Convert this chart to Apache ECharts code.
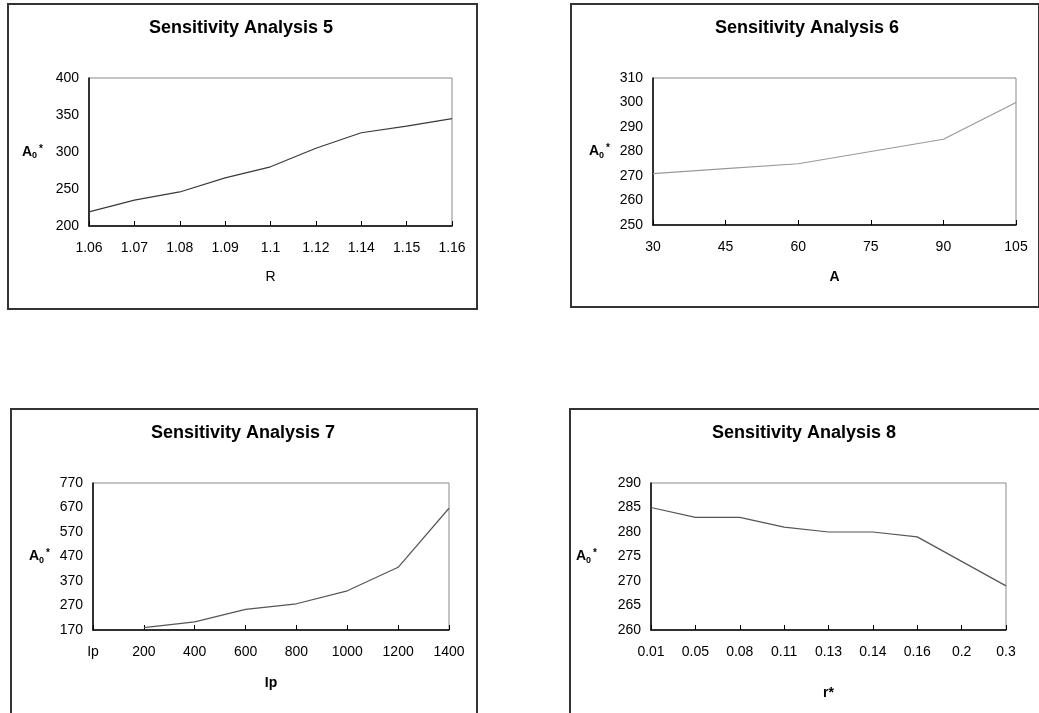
<!DOCTYPE html>
<html>
<head>
<meta charset="utf-8">
<script src="https://cdn.jsdelivr.net/npm/echarts@6/dist/echarts.min.js"></script>
<style>
html,body{margin:0;padding:0;background:#fff;overflow:hidden;width:1039px;height:713px;}
.box{position:absolute;border:2px solid #333;box-sizing:border-box;background:#fff;}
#c5{left:7px;top:3px;width:471px;height:307px;}
#c6{left:570px;top:3px;width:470px;height:305px;}
#c7{left:10px;top:408px;width:468px;height:320px;}
#c8{left:569px;top:408px;width:480px;height:320px;}
</style>
</head>
<body>
<div class="box" id="c5"></div>
<div class="box" id="c6"></div>
<div class="box" id="c7"></div>
<div class="box" id="c8"></div>
<script>
// chart 5: A0* against R
var rCats = ['1.06', '1.07', '1.08', '1.09', '1.1', '1.12', '1.14', '1.15', '1.16'];
var rVals = [219, 235, 246, 265, 280, 305, 326, 335, 345];

// chart 6: A0* against A
var aCats = ['30', '45', '60', '75', '90', '105'];
var aVals = [271, 273, 275, 280, 285, 300];

// chart 7: A0* against Ip (first category has no value)
var ipCats = ['Ip', '200', '400', '600', '800', '1000', '1200', '1400'];
var ipVals = [null, 180, 203, 254, 277, 330, 426, 667];

// chart 8: A0* against r*
var rsCats = ['0.01', '0.05', '0.08', '0.11', '0.13', '0.14', '0.16', '0.2', '0.3'];
var rsVals = [285, 283, 283, 281, 280, 280, 279, 274, 269];

var FONT = '"Liberation Sans", Arial, sans-serif';

function makeChart(id, cfg) {
  var chart = echarts.init(document.getElementById(id), null, {renderer: 'canvas'});
  chart.setOption({
    animation: false,
    title: {
      text: cfg.title,
      left: cfg.titleX,
      top: 9,
      textAlign: 'center',
      textStyle: {fontFamily: FONT, fontSize: 18, fontWeight: 'bold', color: '#000'}
    },
    grid: {
      left: cfg.grid[0], top: cfg.grid[1], width: cfg.grid[2], height: cfg.grid[3],
      show: true, borderColor: '#8a8a8a', borderWidth: 1, backgroundColor: '#fff'
    },
    xAxis: {
      type: 'category',
      data: cfg.cats,
      boundaryGap: false,
      name: cfg.xName,
      nameLocation: 'middle',
      nameGap: cfg.xNameGap,
      nameTextStyle: {fontFamily: FONT, fontSize: 14, fontWeight: cfg.xNameBold ? 'bold' : 'normal', color: '#000'},
      axisLine: {lineStyle: {color: '#000', width: 1.5}},
      axisTick: {show: true, inside: true, length: 5, alignWithLabel: true, lineStyle: {color: '#000', width: 1}},
      axisLabel: {fontFamily: FONT, fontSize: 14, color: '#000', margin: 15, interval: 0},
      splitLine: {show: false}
    },
    yAxis: {
      type: 'value',
      min: cfg.yMin, max: cfg.yMax, interval: cfg.yStep,
      name: '{a|A}{s|0}{t|*}',
      nameLocation: 'middle',
      nameRotate: 0,
      nameGap: cfg.yNameGap,
      nameTextStyle: {
        rich: {
          a: {fontFamily: FONT, fontSize: 14, fontWeight: 'bold', color: '#000'},
          s: {fontFamily: FONT, fontSize: 9, fontWeight: 'bold', color: '#000', padding: [8, 0, 0, 0]},
          t: {fontFamily: FONT, fontSize: 10, fontWeight: 'bold', color: '#000', padding: [0, 0, 6, 2]}
        }
      },
      axisLine: {show: true, lineStyle: {color: '#000', width: 1.5}},
      axisTick: {show: false},
      axisLabel: {fontFamily: FONT, fontSize: 14, color: '#000', margin: 10},
      splitLine: {show: false}
    },
    series: [{
      type: 'line',
      data: cfg.vals,
      symbol: 'none',
      connectNulls: false,
      lineStyle: {color: cfg.color, width: 1.2}
    }]
  });
}

makeChart('c5', {
  title: 'Sensitivity Analysis 5', titleX: 227,
  grid: [80, 73, 363, 148],
  cats: rCats, vals: rVals, color: '#3a3a3a',
  yMin: 200, yMax: 400, yStep: 50,
  xName: 'R', xNameBold: false, xNameGap: 44, yNameGap: 46
});

makeChart('c6', {
  title: 'Sensitivity Analysis 6', titleX: 230,
  grid: [81, 73, 363, 147],
  cats: aCats, vals: aVals, color: '#999',
  yMin: 250, yMax: 310, yStep: 10,
  xName: 'A', xNameBold: true, xNameGap: 45, yNameGap: 43
});

makeChart('c7', {
  title: 'Sensitivity Analysis 7', titleX: 226,
  grid: [81, 73, 356, 147],
  cats: ipCats, vals: ipVals, color: '#555',
  yMin: 170, yMax: 770, yStep: 100,
  xName: 'Ip', xNameBold: true, xNameGap: 46, yNameGap: 43
});

makeChart('c8', {
  title: 'Sensitivity Analysis 8', titleX: 228,
  grid: [80, 73, 355, 147],
  cats: rsCats, vals: rsVals, color: '#555',
  yMin: 260, yMax: 290, yStep: 5,
  xName: 'r*', xNameBold: true, xNameGap: 56, yNameGap: 54
});
</script>
</body>
</html>
